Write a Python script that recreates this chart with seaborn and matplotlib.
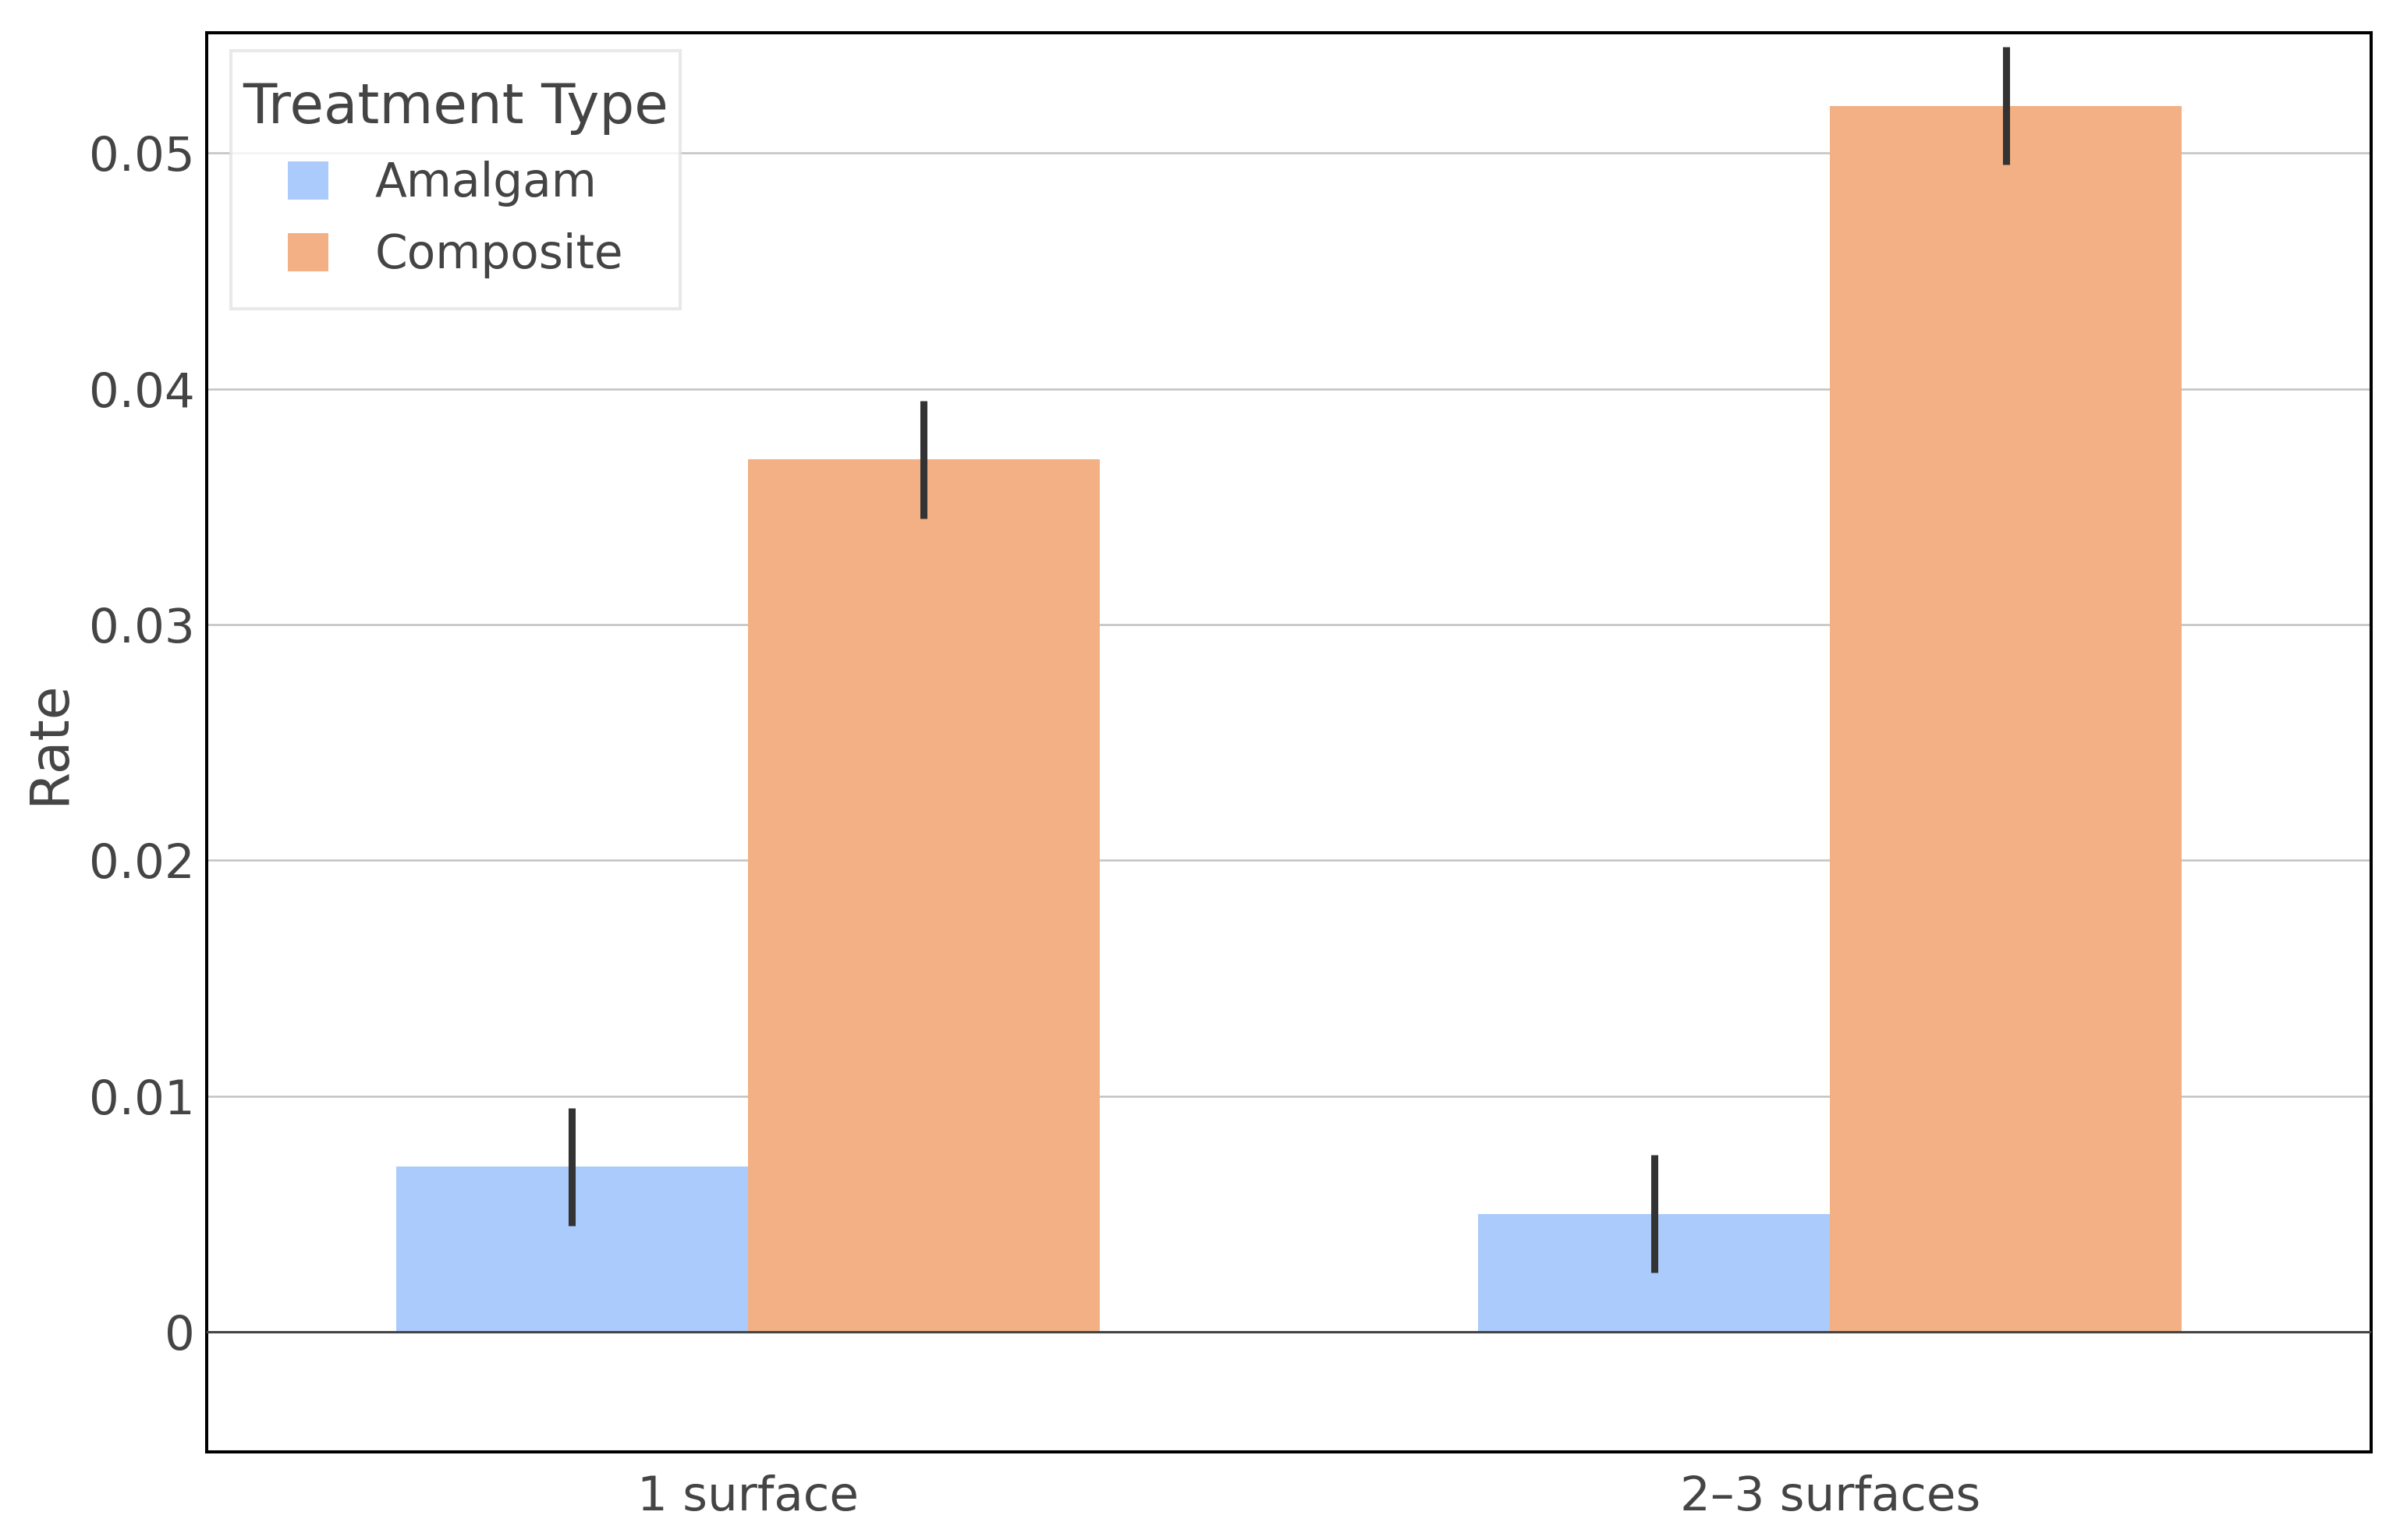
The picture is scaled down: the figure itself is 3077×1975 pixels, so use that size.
import matplotlib
matplotlib.use("Agg")
import pandas as pd
import matplotlib.pyplot as plt
import seaborn as sns
from matplotlib.path import Path

# data
surfaces = ["1 surface", "2–3 surfaces"]
treatments = ["Amalgam", "Composite"]
amalgam_rate = [0.007, 0.005]
composite_rate = [0.037, 0.052]
amalgam_err = [0.0025, 0.0025]
composite_err = [0.0025, 0.0025]

df = pd.DataFrame({
    "Surfaces": surfaces * 2,
    "Treatment Type": [treatments[0]] * 2 + [treatments[1]] * 2,
    "Rate": amalgam_rate + composite_rate,
})
errors = amalgam_err + composite_err

palette = {"Amalgam": "#aacbfb", "Composite": "#f2b084"}
text_col = "#444444"

sns.set_style("white")
plt.rcParams["font.family"] = ["DejaVu Sans"]

fig = plt.figure(figsize=(30.77, 19.75), dpi=100)
ax = fig.add_axes([0.0861, 0.0572, 0.9019, 0.9215])

# grid lines behind bars
ax.set_axisbelow(True)
for v in [0.01, 0.02, 0.03, 0.04, 0.05]:
    ax.axhline(v, color="#c2c2c2", lw=1.8, zorder=0)

sns.barplot(data=df, x="Surfaces", y="Rate", hue="Treatment Type",
            hue_order=treatments, palette=palette, width=0.65,
            errorbar=None, saturation=1, linewidth=0, ax=ax, zorder=2)

ax.axhline(0, color="#444444", lw=2.2, zorder=3)

# error bars at the bar centres
bars = [p for p in ax.patches if p.get_width() > 0 and p.get_height() != 0]
bars = sorted(bars, key=lambda p: (p.get_facecolor() != bars[0].get_facecolor(), p.get_x()))
for p, e in zip(bars, errors):
    xc = p.get_x() + p.get_width() / 2
    ax.errorbar(xc, p.get_height(), yerr=e, fmt="none", ecolor="#333333",
                elinewidth=6.5, capsize=0, zorder=4)

ax.set_xlim(-0.5, 1.5)
ax.set_ylim(-0.0051, 0.0551)
ax.set_yticks([0, 0.01, 0.02, 0.03, 0.04, 0.05])
ax.set_yticklabels(["0", "0.01", "0.02", "0.03", "0.04", "0.05"])
ax.tick_params(axis="both", length=0, labelsize=44, colors=text_col)
ax.tick_params(axis="y", pad=11)
ax.tick_params(axis="x", pad=21)
ax.set_xlabel("")
ax.set_ylabel("Rate", fontsize=50, color=text_col, labelpad=13)

for s in ax.spines.values():
    s.set_visible(True)
    s.set_color("black")
    s.set_linewidth(2.9)


# legend frame with extra room above and below (less at the sides)
def tall_box(x0, y0, width, height, mutation_size):
    d = 0.4 * mutation_size
    return Path([(x0, y0 - d), (x0 + width, y0 - d),
                 (x0 + width, y0 + height + d), (x0, y0 + height + d),
                 (x0, y0 - d)], closed=True)


leg = ax.legend(title="Treatment Type", loc="upper left",
                bbox_to_anchor=(0.0112, 0.974), borderaxespad=0,
                fontsize=43, title_fontsize=51, frameon=True,
                handlelength=0.87, handleheight=0.87, handletextpad=1.0,
                labelspacing=0.55, borderpad=0.25, fancybox=False)
leg.get_frame().set_boxstyle(tall_box)
leg.get_frame().set_edgecolor("#e4e4e4")
leg.get_frame().set_linewidth(3)
leg.get_title().set_color(text_col)
for t in leg.get_texts():
    t.set_color(text_col)

plt.savefig("out.png", dpi=100)
